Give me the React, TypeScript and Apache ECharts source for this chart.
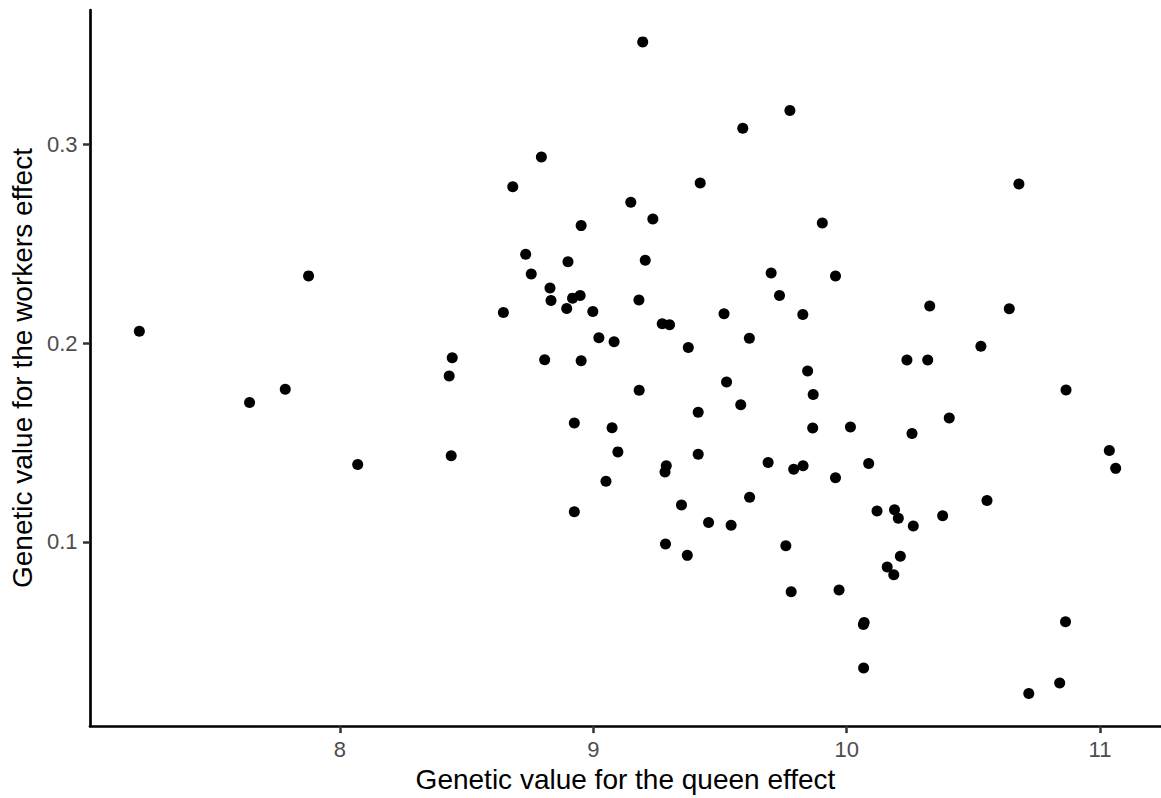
import React, { useEffect, useRef } from "react";
import * as echarts from "echarts";

// Genetic value for the queen effect (x)
const queenValues: number[] = [
  7.876, 7.208, 9.195, 8.795, 8.682, 9.148, 9.235, 8.952, 8.733, 8.9,
  9.205, 8.755, 8.829, 8.833, 8.918, 8.948, 9.18, 8.895, 8.998, 8.645,
  9.272, 9.301, 9.022, 9.082, 8.443, 8.808, 8.952, 9.776, 9.59, 9.422,
  9.904, 9.702, 9.956, 9.735, 9.516, 9.827, 9.616, 9.375, 10.328, 10.238,
  10.32, 10.68, 10.642, 10.53, 7.784, 7.643, 8.07, 8.431, 8.439, 9.181,
  8.925, 9.074, 9.097, 9.288, 9.283, 9.05, 8.925, 9.285, 9.846, 9.526,
  9.868, 9.582, 9.414, 9.866, 10.015, 10.258, 10.405, 9.414, 9.69, 9.791,
  9.828, 9.956, 10.087, 9.617, 9.348, 9.455, 9.544, 10.12, 10.189, 10.204,
  10.263, 10.379, 9.371, 9.76, 10.212, 10.16, 10.186, 9.781, 9.97, 10.069,
  10.066, 10.067, 10.866, 11.037, 11.062, 10.554, 10.864, 10.841, 10.719,
];

// Genetic value for the workers effect (y)
const workerValues: number[] = [
  0.2339, 0.206, 0.3517, 0.2938, 0.2788, 0.271, 0.2625, 0.2592, 0.2448, 0.241,
  0.2418, 0.2348, 0.2278, 0.2215, 0.2227, 0.224, 0.2218, 0.2175, 0.216, 0.2155,
  0.2098, 0.2093, 0.2027, 0.2007, 0.1927, 0.1917, 0.1912, 0.3172, 0.3082, 0.2807,
  0.2605, 0.2353, 0.2338, 0.224, 0.2148, 0.2145, 0.2025, 0.1978, 0.2187, 0.1915,
  0.1915, 0.2802, 0.2173, 0.1985, 0.1768, 0.1702, 0.139, 0.1835, 0.1433, 0.1763,
  0.1598, 0.1575, 0.1453, 0.1383, 0.1352, 0.1305, 0.1152, 0.0989, 0.186, 0.1805,
  0.1742, 0.169, 0.1652, 0.1573, 0.1578, 0.1545, 0.1623, 0.1441, 0.14, 0.1365,
  0.1383, 0.1323, 0.1395, 0.1225, 0.1186, 0.1097, 0.1084, 0.1155, 0.1162, 0.1119,
  0.108, 0.1132, 0.0932, 0.098, 0.0927, 0.0873, 0.0834, 0.0749, 0.0758, 0.0594,
  0.0584, 0.0365, 0.1765, 0.146, 0.137, 0.1208, 0.0598, 0.029, 0.0237,
];

const xTicks: number[] = [8, 9, 10, 11];
const yTicks: number[] = [0.1, 0.2, 0.3];

const xTitle = "Genetic value for the queen effect";
const yTitle = "Genetic value for the workers effect";

const FONT = "'Liberation Sans', Arial, Helvetica, sans-serif";

export default function App() {
  const ref = useRef<HTMLDivElement>(null);

  useEffect(() => {
    if (!ref.current) return;
    const chart = echarts.init(ref.current, null, { renderer: "svg" });
    const points = queenValues.map((q, i) => [q, workerValues[i]]);
    chart.setOption({
      animation: false,
      backgroundColor: "#ffffff",
      grid: { left: 90, right: 0, top: 10, bottom: 67, containLabel: false },
      xAxis: {
        type: "value",
        min: 7.0132,
        max: 11.2409,
        name: xTitle,
        nameLocation: "middle",
        nameGap: 33,
        nameTextStyle: { color: "#000000", fontSize: 28, fontFamily: FONT },
        axisLine: { show: true, onZero: false, lineStyle: { color: "#000000", width: 2.7 } },
        axisTick: {
          show: true,
          length: 7,
          customValues: xTicks,
          lineStyle: { color: "#333333", width: 2.5 },
        },
        axisLabel: {
          show: true,
          customValues: xTicks,
          margin: 12,
          color: "#4D4D4D",
          fontSize: 22,
          fontFamily: FONT,
          formatter: (v: number) => String(Math.round(v)),
        },
        splitLine: { show: false },
      },
      yAxis: {
        type: "value",
        min: 0.00725,
        max: 0.36775,
        name: yTitle,
        nameLocation: "middle",
        nameGap: 49,
        nameRotate: 90,
        nameTextStyle: { color: "#000000", fontSize: 28, fontFamily: FONT },
        axisLine: { show: true, onZero: false, lineStyle: { color: "#000000", width: 2.7 } },
        axisTick: {
          show: true,
          length: 7,
          customValues: yTicks,
          lineStyle: { color: "#333333", width: 2.5 },
        },
        axisLabel: {
          show: true,
          customValues: yTicks,
          margin: 12.5,
          color: "#4D4D4D",
          fontSize: 22,
          fontFamily: FONT,
          formatter: (v: number) => v.toFixed(1),
        },
        splitLine: { show: false },
      },
      series: [
        {
          type: "scatter",
          data: points,
          symbol: "circle",
          symbolSize: 11,
          itemStyle: { color: "#000000", opacity: 1 },
          clip: false,
        },
      ],
    });
    return () => chart.dispose();
  }, []);

  return (
    <div
      ref={ref}
      style={{ position: "absolute", left: 0, top: 0, width: 1161, height: 798 }}
    />
  );
}
